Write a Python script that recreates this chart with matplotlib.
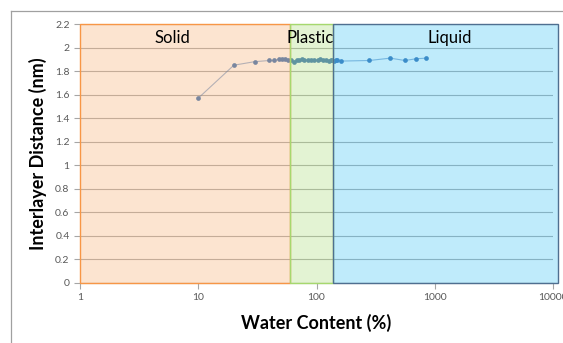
import matplotlib.pyplot as plt
from matplotlib.patches import Rectangle
from matplotlib.lines import Line2D
from matplotlib.ticker import FixedLocator, FixedFormatter, NullLocator

# water content (%) and interlayer spacing (nm)
water = [10, 20, 30, 40, 44, 48, 51, 54, 57,
         61, 64, 68, 71, 75, 79, 84, 90, 96, 102, 108, 114, 121, 128, 133, 136,
         140, 145, 150, 160, 280, 420, 560, 700, 850]
spacing = [1.57, 1.85, 1.88, 1.89, 1.89, 1.90, 1.905, 1.90, 1.895,
           1.89, 1.88, 1.895, 1.89, 1.90, 1.89, 1.895, 1.89, 1.895, 1.89, 1.90, 1.89, 1.895, 1.885, 1.89, 1.895,
           1.885, 1.89, 1.895, 1.885, 1.89, 1.91, 1.89, 1.905, 1.91]

# consistency regions: name, start, end
regions = ['Solid', 'Plastic', 'Liquid']
region_lo = [1, 60, 138]
region_hi = [60, 138, 11000]
region_label_x = [6.0, 88, 1330]

x_ticks = [1, 10, 100, 1000, 10000]
x_labels = ['1', '10', '100', '1000', '10000']
y_ticks = [0, 0.2, 0.4, 0.6, 0.8, 1, 1.2, 1.4, 1.6, 1.8, 2, 2.2]
y_labels = ['0', '0.2', '0.4', '0.6', '0.8', '1', '1.2', '1.4', '1.6', '1.8', '2', '2.2']

plt.rcParams['font.family'] = ['Lato', 'DejaVu Sans']

fig = plt.figure(figsize=(5.63, 3.43), dpi=100)
ax = fig.add_axes([80 / 563, 1 - 283 / 343, 473 / 563, 259 / 343])

ax.set_xscale('log')
ax.set_xlim(1, 10000)
ax.set_ylim(0, 2.2)
ax.xaxis.set_major_locator(FixedLocator(x_ticks))
ax.xaxis.set_major_formatter(FixedFormatter(x_labels))
ax.xaxis.set_minor_locator(NullLocator())
ax.set_yticks(y_ticks)
ax.set_yticklabels(y_labels)
ax.grid(axis='y', color='#b4b4b4', lw=0.8, zorder=0)
ax.set_axisbelow(True)

ax.plot(water, spacing, color='#4F81BD', lw=0.8, alpha=0.55, zorder=2)
ax.plot(water, spacing, 'o', color='#4F81BD', ms=3.4, mec='none', zorder=2)

# translucent region overlays
fills = [(0.969, 0.588, 0.275, 0.25), (0.573, 0.816, 0.314, 0.25), (0.0, 0.69, 0.94, 0.25)]
edges = ['#F79646', '#A6D86E', '#4F6F90']
for name, lo, hi, fc, ec, lx in zip(regions, region_lo, region_hi, fills, edges, region_label_x):
    ax.add_patch(Rectangle((lo, 0), hi - lo, 2.2, facecolor=fc, edgecolor=ec,
                           lw=1.0, zorder=3, clip_on=False))
    ax.text(lx, 2.085, name, ha='center', va='center', fontsize=12, color='black', zorder=4)

for s in ['top', 'right', 'left']:
    ax.spines[s].set_visible(False)
ax.spines['bottom'].set_color('#a6a6a6')
ax.tick_params(axis='both', colors='#a6a6a6', labelcolor='#595959', labelsize=7.5, length=4, width=0.8)
ax.tick_params(axis='y', length=4)

ax.set_xlabel('Water Content (%)', fontsize=13, fontweight='bold', labelpad=8)
ax.set_ylabel('Interlayer Distance (nm)', fontsize=13, fontweight='bold', labelpad=6)

# outer chart frame
fig.add_artist(Line2D([11 / 563, 11 / 563], [0, 1 - 11 / 343], transform=fig.transFigure, color='#a0a0a0', lw=0.9))
fig.add_artist(Line2D([11 / 563, 1], [1 - 11 / 343, 1 - 11 / 343], transform=fig.transFigure, color='#a0a0a0', lw=0.9))

fig.savefig('out.png', dpi=100)
